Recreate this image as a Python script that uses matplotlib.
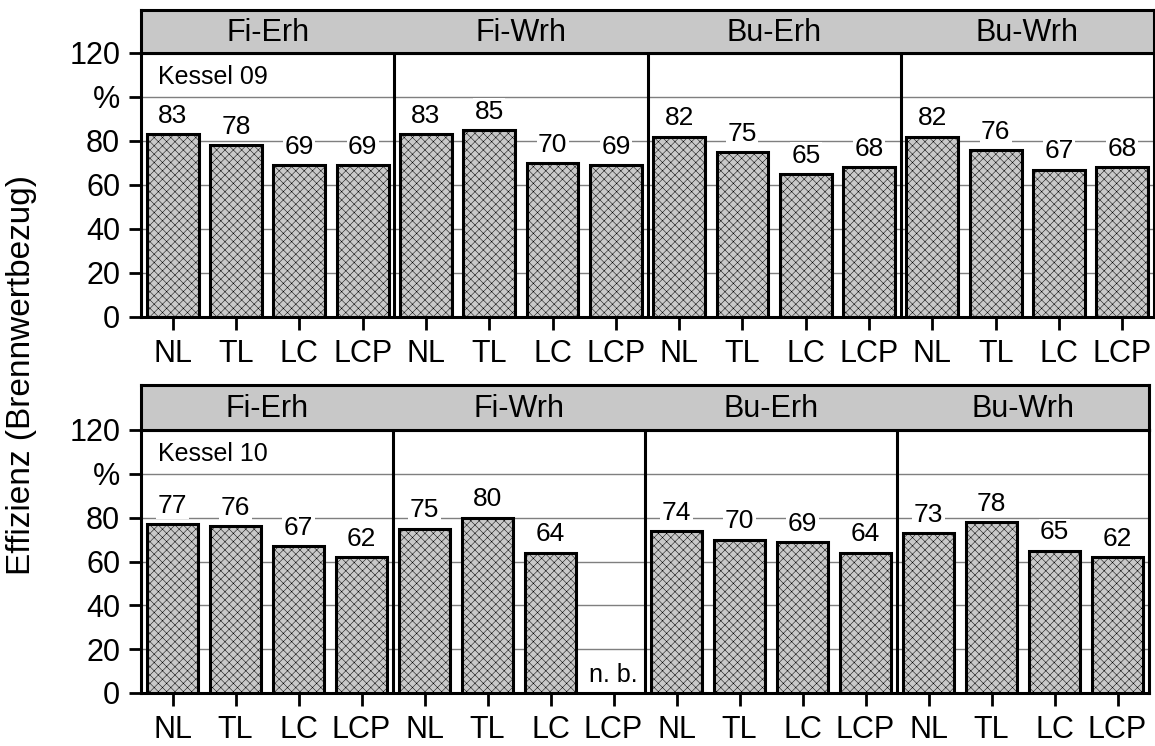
import numpy as np
import matplotlib
matplotlib.use("Agg")
import matplotlib.pyplot as plt

plt.rcParams['font.family'] = ['Liberation Sans', 'DejaVu Sans']
plt.rcParams['hatch.linewidth'] = 0.35
plt.rcParams['hatch.color'] = '#9e9e9e'

groups = ["Fi-Erh", "Fi-Wrh", "Bu-Erh", "Bu-Wrh"]
modes = ["NL", "TL", "LC", "LCP"]

kessel09 = [83, 78, 69, 69,
            83, 85, 70, 69,
            82, 75, 65, 68,
            82, 76, 67, 68]
kessel10 = [77, 76, 67, 62,
            75, 80, 64, np.nan,
            74, 70, 69, 64,
            73, 78, 65, 62]

y_ticks = [0, 20, 40, 60, 80, 100, 120]
y_ticklabels = ["0", "20", "40", "60", "80", "%", "120"]

W, H = 1155, 746
fig = plt.figure(figsize=(W / 100, H / 100), dpi=100)


def px_axes(l, t, r, b):
    return fig.add_axes([l / W, 1 - b / H, (r - l) / W, (b - t) / H])


def draw_panel(box, head_box, values, title):
    ax = px_axes(*box)
    hx = px_axes(*head_box)

    x = np.arange(len(values))
    vals = np.array(values, dtype=float)
    ok = ~np.isnan(vals)

    ax.bar(x[ok], vals[ok], width=0.82, color='#c9c9c9', edgecolor='black',
           linewidth=2.2, hatch='xxxx', zorder=3)

    for xi, v in zip(x, vals):
        if np.isnan(v):
            ax.annotate("n. b.", (xi, 0), xytext=(0, 4), textcoords='offset points',
                        ha='center', va='bottom', fontsize=18, zorder=4)
        else:
            ax.annotate(f"{v:.0f}", (xi, v), xytext=(0, 4.5), textcoords='offset points',
                        ha='center', va='bottom', fontsize=19, zorder=4,
                        bbox=dict(boxstyle='square,pad=0.05', fc='white', ec='none'))

    ax.set_xlim(-0.5, len(values) - 0.5)
    ax.set_ylim(0, 120)
    ax.set_yticks(y_ticks)
    ax.set_yticklabels(y_ticklabels)
    ax.set_xticks(x)
    ax.set_xticklabels(modes * len(groups))
    ax.tick_params(axis='both', direction='out', length=9, width=2,
                   labelsize=22, pad=7)
    ax.tick_params(axis='y', pad=6)
    for yg in y_ticks[1:-1]:
        ax.axhline(yg, color='#7f7f7f', lw=1.0, zorder=1)
    for d in range(1, len(groups)):
        ax.axvline(d * len(modes) - 0.5, color='black', lw=2.2, zorder=2)
    for s in ax.spines.values():
        s.set_linewidth(2.2)

    ax.annotate(title, (0, 1), xycoords='axes fraction', xytext=(12, -9),
                textcoords='offset points', ha='left', va='top', fontsize=18)

    hx.set_facecolor('#c8c8c8')
    hx.set_xlim(-0.5, len(values) - 0.5)
    hx.set_ylim(0, 1)
    hx.set_xticks([])
    hx.set_yticks([])
    for s in hx.spines.values():
        s.set_linewidth(2.2)
    for g, name in enumerate(groups):
        hx.text(g * len(modes) + 1.5, 0.47, name, ha='center', va='center',
                fontsize=22)
    return ax


draw_panel((141, 53, 1154, 317), (141, 10, 1154, 53), kessel09, "Kessel 09")
draw_panel((141, 430, 1149, 693), (141, 385, 1149, 430), kessel10, "Kessel 10")

fig.text(22 / W, 1 - 375 / H, "Effizienz (Brennwertbezug)", rotation=90,
         ha='center', va='center', fontsize=24)

fig.savefig("out.png", dpi=100)
